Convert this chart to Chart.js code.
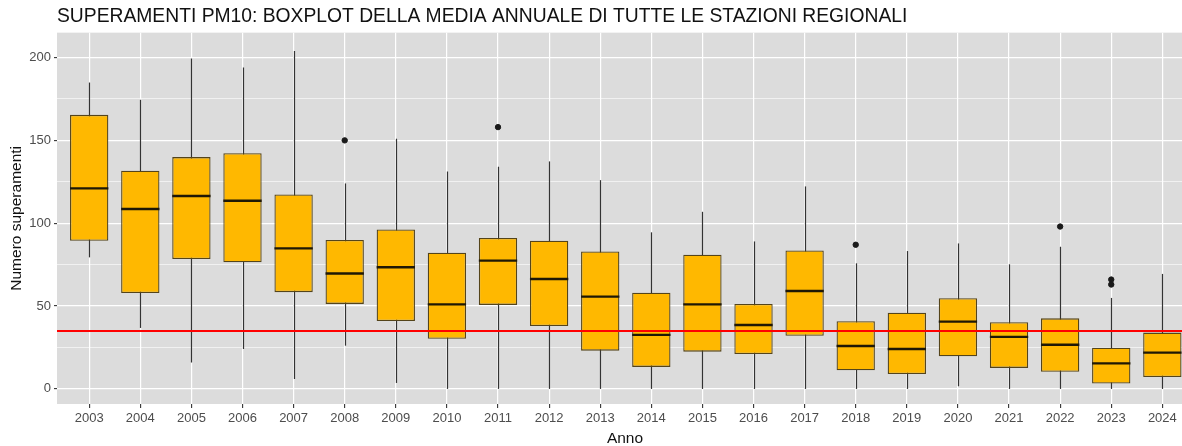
<!DOCTYPE html>
<html>
<head>
<meta charset="utf-8">
<script src="https://cdn.jsdelivr.net/npm/chart.js@4/dist/chart.umd.min.js"></script>
<style>
  html, body { margin: 0; padding: 0; background: #fff; overflow: hidden; }
  #wrap { width: 1200px; height: 446px; }
</style>
</head>
<body>
<div id="wrap"><canvas id="chart" width="1200" height="446"></canvas></div>
<script>
const years      = [2003, 2004, 2005, 2006, 2007, 2008, 2009, 2010, 2011, 2012, 2013, 2014, 2015, 2016, 2017, 2018, 2019, 2020, 2021, 2022, 2023, 2024];
const whiskerLo  = [79.4, 36.8, 16, 24.1, 6, 26.1, 3.6, 0, 0, 0, 0, 0, 0, 0, 0, 0, 0, 1.6, 0, 0, 0, 0];
const q1         = [89.4, 57.9, 78.4, 76.4, 58.4, 51.3, 41, 30.3, 50.7, 38, 23.1, 13.3, 22.5, 21.1, 32.1, 11.2, 9, 19.7, 12.7, 10.4, 3.2, 7.2];
const medians    = [121, 108.6, 116.4, 113.6, 84.8, 69.7, 73.4, 51, 77.4, 66.3, 55.7, 32.6, 51, 38.6, 59.1, 25.9, 24.1, 40.6, 31.4, 26.7, 15.4, 21.9];
const q3         = [165.4, 131.7, 139.9, 142.3, 117.4, 89.9, 96.2, 82.2, 91.1, 89.4, 83, 58.1, 81, 51.3, 83.6, 40.8, 46, 54.7, 40.2, 42.6, 24.9, 34];
const whiskerHi  = [184.9, 174.5, 199.4, 194, 204, 124, 151, 131.2, 134.1, 137.3, 126, 94.5, 106.9, 89, 122.2, 75.8, 83.2, 87.8, 75.2, 85.8, 54.9, 69.4];
const outlierYears  = [2008, 2011, 2018, 2022, 2023, 2023];
const outlierValues = [150, 158, 87, 98, 66, 63];
const limitValue = 35;

const boxData = years.map((y, i) => ({ x: y, y: [q1[i], q3[i]] }));
const outlierData = outlierYears.map((y, i) => ({ x: y, y: outlierValues[i] }));

const panelBg = {
  id: "panelBg",
  beforeDraw(chart) {
    const { ctx, chartArea: a } = chart;
    ctx.save();
    ctx.fillStyle = "#dcdcdc";
    ctx.fillRect(a.left, a.top, a.right - a.left, a.bottom - a.top);
    ctx.restore();
  },
};

const whiskers = {
  id: "whiskers",
  beforeDatasetsDraw(chart) {
    const { ctx, scales: { x, y } } = chart;
    ctx.save();
    ctx.strokeStyle = "#333333";
    ctx.lineWidth = 1.2;
    years.forEach((yr, i) => {
      const px = Math.round(x.getPixelForValue(yr)) + 0.5;
      ctx.beginPath();
      ctx.moveTo(px, y.getPixelForValue(whiskerLo[i]));
      ctx.lineTo(px, y.getPixelForValue(whiskerHi[i]));
      ctx.stroke();
    });
    ctx.restore();
  },
};

const medianLines = {
  id: "medianLines",
  afterDatasetDraw(chart, args) {
    if (args.index !== 0) return;
    const { ctx, scales: { y } } = chart;
    ctx.save();
    ctx.strokeStyle = "#1f1805";
    ctx.lineWidth = 2.4;
    args.meta.data.forEach((bar, i) => {
      const py = y.getPixelForValue(medians[i]);
      ctx.beginPath();
      ctx.moveTo(bar.x - bar.width / 2, py);
      ctx.lineTo(bar.x + bar.width / 2, py);
      ctx.stroke();
    });
    ctx.restore();
  },
};

const font = "'Liberation Sans', Arial, sans-serif";

new Chart(document.getElementById("chart"), {
  type: "bar",
  data: {
    datasets: [
      {
        type: "bar",
        data: boxData,
        backgroundColor: "#ffb800",
        borderColor: "#54441a",
        borderWidth: 1.3,
        borderSkipped: false,
        barPercentage: 0.75,
        categoryPercentage: 1,
        grouped: false,
        order: 3,
      },
      {
        type: "scatter",
        data: outlierData,
        backgroundColor: "#1a1a1a",
        borderColor: "#1a1a1a",
        pointRadius: 2.7,
        order: 2,
      },
      {
        type: "line",
        data: [{ x: 2002.37, y: limitValue }, { x: 2024.6, y: limitValue }],
        borderColor: "#ff0000",
        borderWidth: 2,
        pointRadius: 0,
        order: 0,
      },
    ],
  },
  options: {
    responsive: false,
    animation: false,
    events: [],
    layout: { padding: { left: 0, right: 7, top: 0, bottom: 0 } },
    plugins: {
      legend: { display: false },
      tooltip: { enabled: false },
      title: {
        display: true,
        text: "SUPERAMENTI PM10: BOXPLOT DELLA MEDIA ANNUALE DI TUTTE LE STAZIONI REGIONALI",
        align: "start",
        fullSize: false,
        color: "#111111",
        font: { family: font, size: 19.3, weight: "normal", lineHeight: 1.2 },
        padding: { top: 5, bottom: 4.5 },
      },
    },
    scales: {
      x: {
        type: "linear",
        min: 2002.37,
        max: 2024.6,
        offset: false,
        border: { display: false },
        grid: {
          offset: false,
          color: "#ffffff",
          lineWidth: 1.2,
          tickLength: 4,
          tickColor: "#333333",
          tickWidth: 1.1,
        },
        ticks: {
          stepSize: 1,
          includeBounds: false,
          autoSkip: false,
          maxRotation: 0,
          padding: 3,
          color: "#4d4d4d",
          font: { family: font, size: 13 },
          callback: (v) => String(v),
        },
        title: {
          display: true,
          text: "Anno",
          color: "#111111",
          font: { family: font, size: 15.5, lineHeight: 1.0 },
          padding: { top: 0, bottom: 0 },
        },
        afterFit: (s) => { s.height = 42; },
      },
      y: {
        min: -9.1,
        max: 215,
        border: { display: false },
        grid: {
          offset: false,
          color: "#ffffff",
          lineWidth: (c) => (c.tick && c.tick.value % 50 === 0 ? 1.2 : 0.6),
          tickLength: 3,
          tickColor: (c) => (c.tick && c.tick.value % 50 === 0 ? "#333333" : "rgba(0,0,0,0)"),
          tickWidth: 1.1,
        },
        ticks: {
          stepSize: 25,
          includeBounds: false,
          autoSkip: false,
          padding: 3,
          color: "#4d4d4d",
          font: { family: font, size: 13 },
          callback: (v) => (v % 50 === 0 ? String(v) : ""),
        },
        title: {
          display: true,
          text: "Numero superamenti",
          color: "#111111",
          font: { family: font, size: 15.5, lineHeight: 1.0 },
          padding: { top: 9, bottom: 0 },
        },
        afterFit: (s) => { s.width = 57; },
      },
    },
  },
  plugins: [panelBg, whiskers, medianLines],
});
</script>
</body>
</html>
